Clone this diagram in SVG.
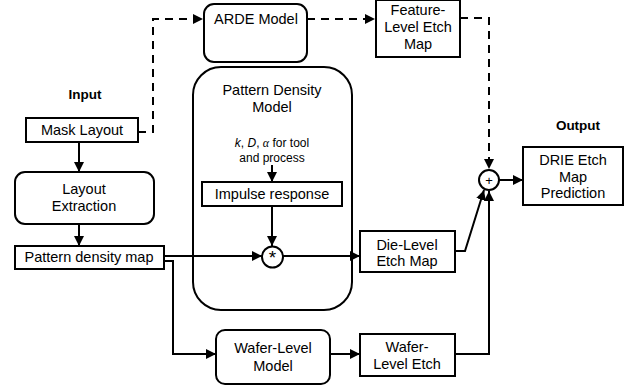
<svg xmlns="http://www.w3.org/2000/svg" width="627" height="387" viewBox="0 0 627 387">
<defs>
<marker id="ah" markerWidth="10" markerHeight="10" refX="10" refY="5" orient="auto" markerUnits="userSpaceOnUse">
<path d="M0,0 L10,5 L0,10 Z" fill="#000"/>
</marker>
<style>
.box{fill:#fff;stroke:#000;stroke-width:2}
.t{font-family:"Liberation Sans",Arial,sans-serif;font-size:14.5px;fill:#000;text-anchor:middle}
.s{font-family:"Liberation Sans",Arial,sans-serif;font-size:12px;fill:#000;text-anchor:middle}
.b{font-family:"Liberation Sans",Arial,sans-serif;font-size:13.5px;font-weight:bold;fill:#000;text-anchor:middle}
.op{font-family:"Liberation Sans",Arial,sans-serif;fill:#000;text-anchor:middle}
.c{fill:none;stroke:#000;stroke-width:2}
.d{fill:none;stroke:#000;stroke-width:2;stroke-dasharray:8,6}
</style>
</defs>
<rect width="627" height="387" fill="#fff"/>

<g id="pattern-density-model">
<rect class="box" x="193" y="67" width="159" height="243" rx="28"/>
<text class="t" x="272" y="95">Pattern Density</text>
<text class="t" x="272" y="112">Model</text>
<text class="s" x="272" y="147"><tspan font-style="italic">k</tspan>, <tspan font-style="italic">D</tspan>, <tspan style="font-family:'Liberation Serif',serif;font-style:italic">α</tspan> for tool</text>
<text class="s" x="272" y="162">and process</text>
</g>

<g id="connectors">
<path class="d" d="M138,132 H153 V19 H203" marker-end="url(#ah)"/>
<path class="d" d="M307,19 H375" marker-end="url(#ah)"/>
<path class="d" d="M460,18 H489 V169" marker-end="url(#ah)"/>
<path class="c" d="M79,142 V172" marker-end="url(#ah)"/>
<path class="c" d="M79,224 V246" marker-end="url(#ah)"/>
<path class="c" d="M164,256 H262" marker-end="url(#ah)"/>
<path class="c" d="M272,165 V182" marker-end="url(#ah)"/>
<path class="c" d="M272,206 V246" marker-end="url(#ah)"/>
<path class="c" d="M283,256 H360" marker-end="url(#ah)"/>
<path class="c" d="M455,251 H465 L484,190" marker-end="url(#ah)"/>
<path class="c" d="M164,261 H173 V354 H216" marker-end="url(#ah)"/>
<path class="c" d="M330,354 H360" marker-end="url(#ah)"/>
<path class="c" d="M455,354 H489 V191" marker-end="url(#ah)"/>
<path class="c" d="M499,180 H523" marker-end="url(#ah)"/>
</g>

<g id="input-label"><text class="b" x="85" y="99">Input</text></g>
<g id="output-label"><text class="b" x="578" y="130">Output</text></g>

<g id="arde-model">
<rect class="box" x="204" y="4" width="103" height="58" rx="10"/>
<text class="t" x="256" y="24">ARDE Model</text>
</g>

<g id="feature-level-etch-map">
<rect class="box" x="376" y="0" width="84" height="57"/>
<text class="t" x="418" y="15">Feature-</text>
<text class="t" x="418" y="32">Level Etch</text>
<text class="t" x="418" y="49">Map</text>
</g>

<g id="mask-layout">
<rect class="box" x="26" y="118" width="112" height="24"/>
<text class="t" x="82" y="135">Mask Layout</text>
</g>

<g id="layout-extraction">
<rect class="box" x="15" y="172" width="139" height="52" rx="10"/>
<text class="t" x="84" y="194">Layout</text>
<text class="t" x="84" y="211">Extraction</text>
</g>

<g id="pattern-density-map">
<rect class="box" x="15" y="246" width="149" height="23"/>
<text class="t" x="89" y="262">Pattern density map</text>
</g>

<g id="impulse-response">
<rect class="box" x="202" y="182" width="140" height="24"/>
<text class="t" x="272" y="199">Impulse response</text>
</g>

<g id="convolution">
<circle class="box" cx="272.5" cy="257" r="10.5"/>
<text class="op" x="272.5" y="264" style="font-size:19px">*</text>
</g>

<g id="die-level-etch-map">
<rect class="box" x="360" y="231" width="95" height="41"/>
<text class="t" x="407" y="250">Die-Level</text>
<text class="t" x="407" y="266">Etch Map</text>
</g>

<g id="sum">
<circle class="box" cx="489" cy="180" r="10"/>
<text class="op" x="489" y="184.5" style="font-size:13px">+</text>
</g>

<g id="drie-etch-map-prediction">
<rect class="box" x="523" y="147" width="100" height="58"/>
<text class="t" x="573" y="165">DRIE Etch</text>
<text class="t" x="573" y="182">Map</text>
<text class="t" x="573" y="198">Prediction</text>
</g>

<g id="wafer-level-model">
<rect class="box" x="216" y="330" width="114" height="54" rx="9"/>
<text class="t" x="273" y="353">Wafer-Level</text>
<text class="t" x="273" y="371">Model</text>
</g>

<g id="wafer-level-etch">
<rect class="box" x="360" y="334" width="95" height="42"/>
<text class="t" x="407" y="352">Wafer-</text>
<text class="t" x="407" y="369">Level Etch</text>
</g>
</svg>
